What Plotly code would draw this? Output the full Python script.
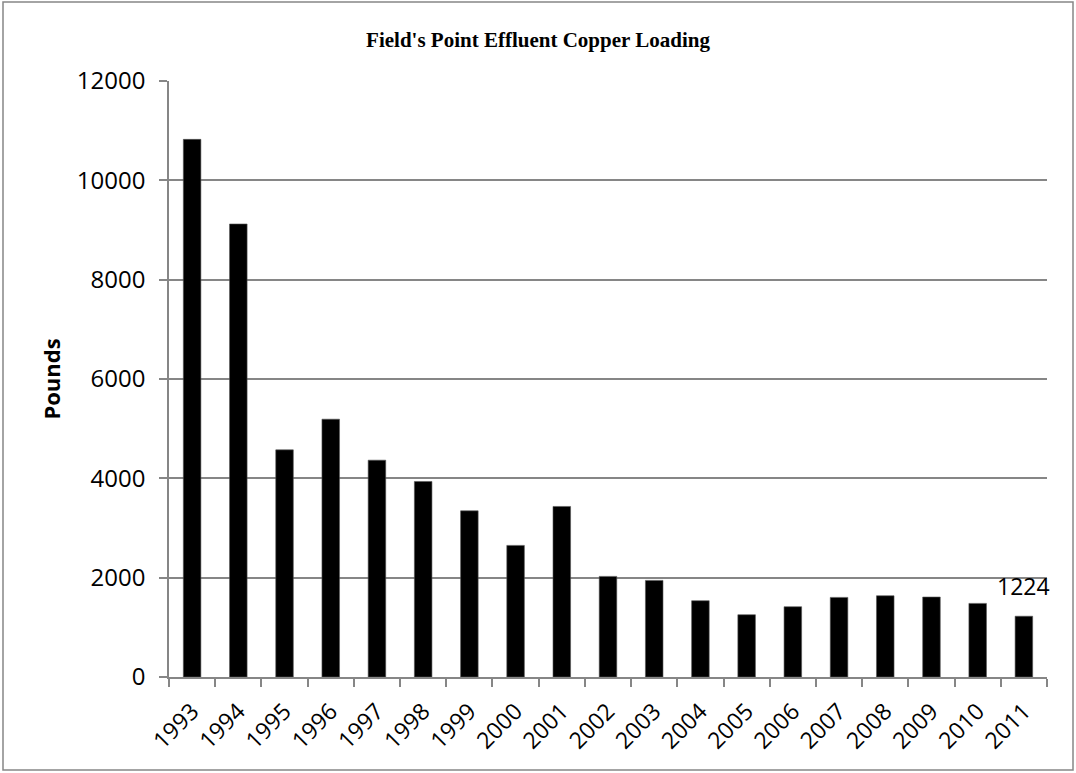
import plotly.graph_objects as go

years = [str(y) for y in range(1993, 2012)]
pounds = [10825, 9121, 4573, 5191, 4366, 3937, 3346, 2650, 3434, 2026,
          1945, 1536, 1254, 1415, 1603, 1636, 1610, 1482, 1224]
y_ticks = [0, 2000, 4000, 6000, 8000, 10000, 12000]
label_year = "2011"
label_value = 1224

W, H = 1076, 773
ml, mr, mt, mb = 169, 29, 81, 96
pw, ph = W - ml - mr, H - mt - mb

fig = go.Figure()
fig.add_trace(go.Bar(
    x=years, y=pounds,
    marker=dict(color="black", line=dict(color="#555555", width=0.6)),
    hoverinfo="x+y",
))

fig.add_annotation(
    x=years.index(label_year), y=label_value, text=str(label_value),
    showarrow=False, yanchor="bottom", yshift=12,
    font=dict(family="Open Sans", size=23, color="black"),
)

# outer chart border
fig.add_shape(
    type="rect", xref="paper", yref="paper",
    x0=(3 - ml) / pw, x1=(1073 - ml) / pw,
    y0=(H - mb - 770) / ph, y1=(H - mb - 2) / ph,
    line=dict(color="#868686", width=1.5), fillcolor="rgba(0,0,0,0)",
    layer="below",
)

fig.update_layout(
    width=W, height=H,
    margin=dict(l=ml, r=mr, t=mt, b=mb),
    paper_bgcolor="white", plot_bgcolor="white",
    bargap=0.62,
    showlegend=False,
    title=dict(
        text="<b>Field's Point Effluent Copper Loading</b>",
        x=0.5, xanchor="center", y=1 - 40 / H, yanchor="middle",
        font=dict(family="Liberation Serif", size=21, color="black"),
    ),
    xaxis=dict(
        type="category",
        range=[-0.5, len(years) - 0.5],
        tickangle=-45,
        tickson="boundaries",
        ticks="outside", ticklen=8, tickcolor="#868686", tickwidth=1.5,
        ticklabelstandoff=10,
        showline=True, linecolor="#868686", linewidth=1.5,
        showgrid=False,
        tickfont=dict(family="Open Sans", size=23, color="black"),
    ),
    yaxis=dict(
        range=[0, 12000],
        tickvals=y_ticks,
        ticktext=[str(v) for v in y_ticks],
        ticks="outside", ticklen=8, tickcolor="#868686", tickwidth=1.5,
        ticklabelstandoff=9,
        showline=True, linecolor="#868686", linewidth=1.5,
        showgrid=True, gridcolor="#868686", gridwidth=1.5,
        zeroline=False,
        tickfont=dict(family="Open Sans", size=24, color="black"),
        title=dict(text="<b>Pounds</b>", standoff=10,
                   font=dict(family="Open Sans", size=22, color="black")),
    ),
)

fig.write_html(
    "out.html",
    config={"displayModeBar": False},
    post_script="document.body.style.margin='0px';document.body.style.overflow='hidden';",
)
